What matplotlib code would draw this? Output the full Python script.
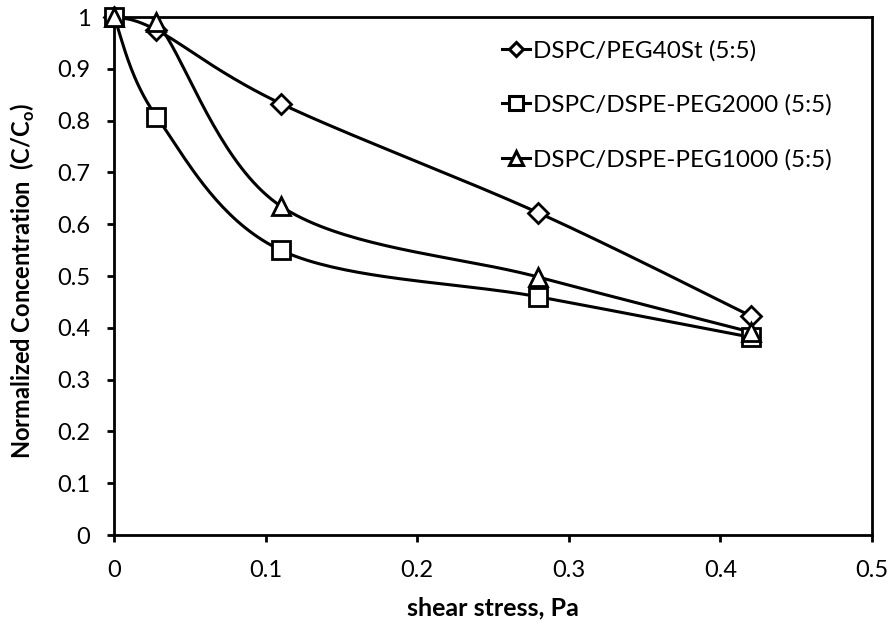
import numpy as np
import matplotlib
matplotlib.use("Agg")
from matplotlib import pyplot as plt

plt.rcParams['font.family'] = ['Lato', 'DejaVu Sans']

shear = [0, 0.028, 0.11, 0.28, 0.42]
peg40st = [1.0, 0.975, 0.833, 0.622, 0.423]
peg2000 = [1.0, 0.808, 0.55, 0.46, 0.382]
peg1000 = [1.0, 0.99, 0.635, 0.498, 0.392]

labels = ['DSPC/PEG40St (5:5)', 'DSPC/DSPE-PEG2000 (5:5)', 'DSPC/DSPE-PEG1000 (5:5)']
markers = ['D', 's', '^']
msizes = [10, 13, 13]


def smooth(x, y, sx, sy, n=40):
    # spreadsheet-style smoothed line: cubic Bezier with tangents (P[i+1]-P[i-1])/6,
    # worked out in screen-like units so the curve shape does not depend on the scales
    p = np.column_stack([np.asarray(x) * sx, np.asarray(y) * sy])
    pts = np.vstack([p[0], p, p[-1]])
    out = []
    t = np.linspace(0, 1, n)[:, None]
    for i in range(1, len(pts) - 2):
        p0, p3 = pts[i], pts[i + 1]
        c1 = p0 + (pts[i + 1] - pts[i - 1]) / 6
        c2 = p3 - (pts[i + 2] - pts[i]) / 6
        seg = ((1 - t) ** 3) * p0 + 3 * ((1 - t) ** 2) * t * c1 + 3 * (1 - t) * t ** 2 * c2 + t ** 3 * p3
        out.append(seg if i == 1 else seg[1:])
    out = np.vstack(out)
    return out[:, 0] / sx, out[:, 1] / sy


fig = plt.figure(figsize=(8.95, 6.31), dpi=100)
ax = fig.add_axes([0.1274, 0.152, 0.8469, 0.821])

sx, sy = 758 / 0.5, 518.0
for vals, mk, ms, lab in zip([peg40st, peg2000, peg1000], markers, msizes, labels):
    xs, ys = smooth(shear, vals, sx, sy)
    ax.plot(xs, ys, color='black', lw=2.2, zorder=2)
    ax.plot(shear, vals, linestyle='none', marker=mk, ms=ms, mfc='white',
            mec='black', mew=2.0, zorder=3, clip_on=False)
    # proxy for the legend entry
    ax.plot([], [], color='black', lw=2.2, marker=mk, ms=ms * 0.75, mfc='white',
            mec='black', mew=2.2, label=lab)

ax.set_xlim(0, 0.5)
ax.set_ylim(0, 1)
ax.set_xticks(np.arange(0, 0.51, 0.1))
ax.set_yticks(np.arange(0, 1.01, 0.1))
ax.set_xticklabels(['0', '0.1', '0.2', '0.3', '0.4', '0.5'])
ax.set_yticklabels(['0', '0.1', '0.2', '0.3', '0.4', '0.5', '0.6', '0.7', '0.8', '0.9', '1'])
ax.tick_params(direction='out', length=5, width=2, labelsize=17)
ax.tick_params(axis='x', pad=13)
ax.tick_params(axis='y', pad=12)
for sp in ax.spines.values():
    sp.set_linewidth(2)

ax.set_xlabel('shear stress, Pa', fontsize=18, fontweight='bold')
ax.set_ylabel('Normalized Concentration  (C/C$_\\mathregular{o}$)', fontsize=17,
              fontweight='bold')
ax.xaxis.set_label_coords(0.5, -0.118)
ax.yaxis.set_label_coords(-0.102, 0.49)

leg = ax.legend(loc='upper left', bbox_to_anchor=(0.561, 0.937),
                bbox_transform=fig.transFigure, frameon=False,
                fontsize=17.5, handlelength=1.15, handletextpad=0.12, labelspacing=1.36,
                borderaxespad=0, borderpad=0)

fig.savefig('out.png', dpi=100)
